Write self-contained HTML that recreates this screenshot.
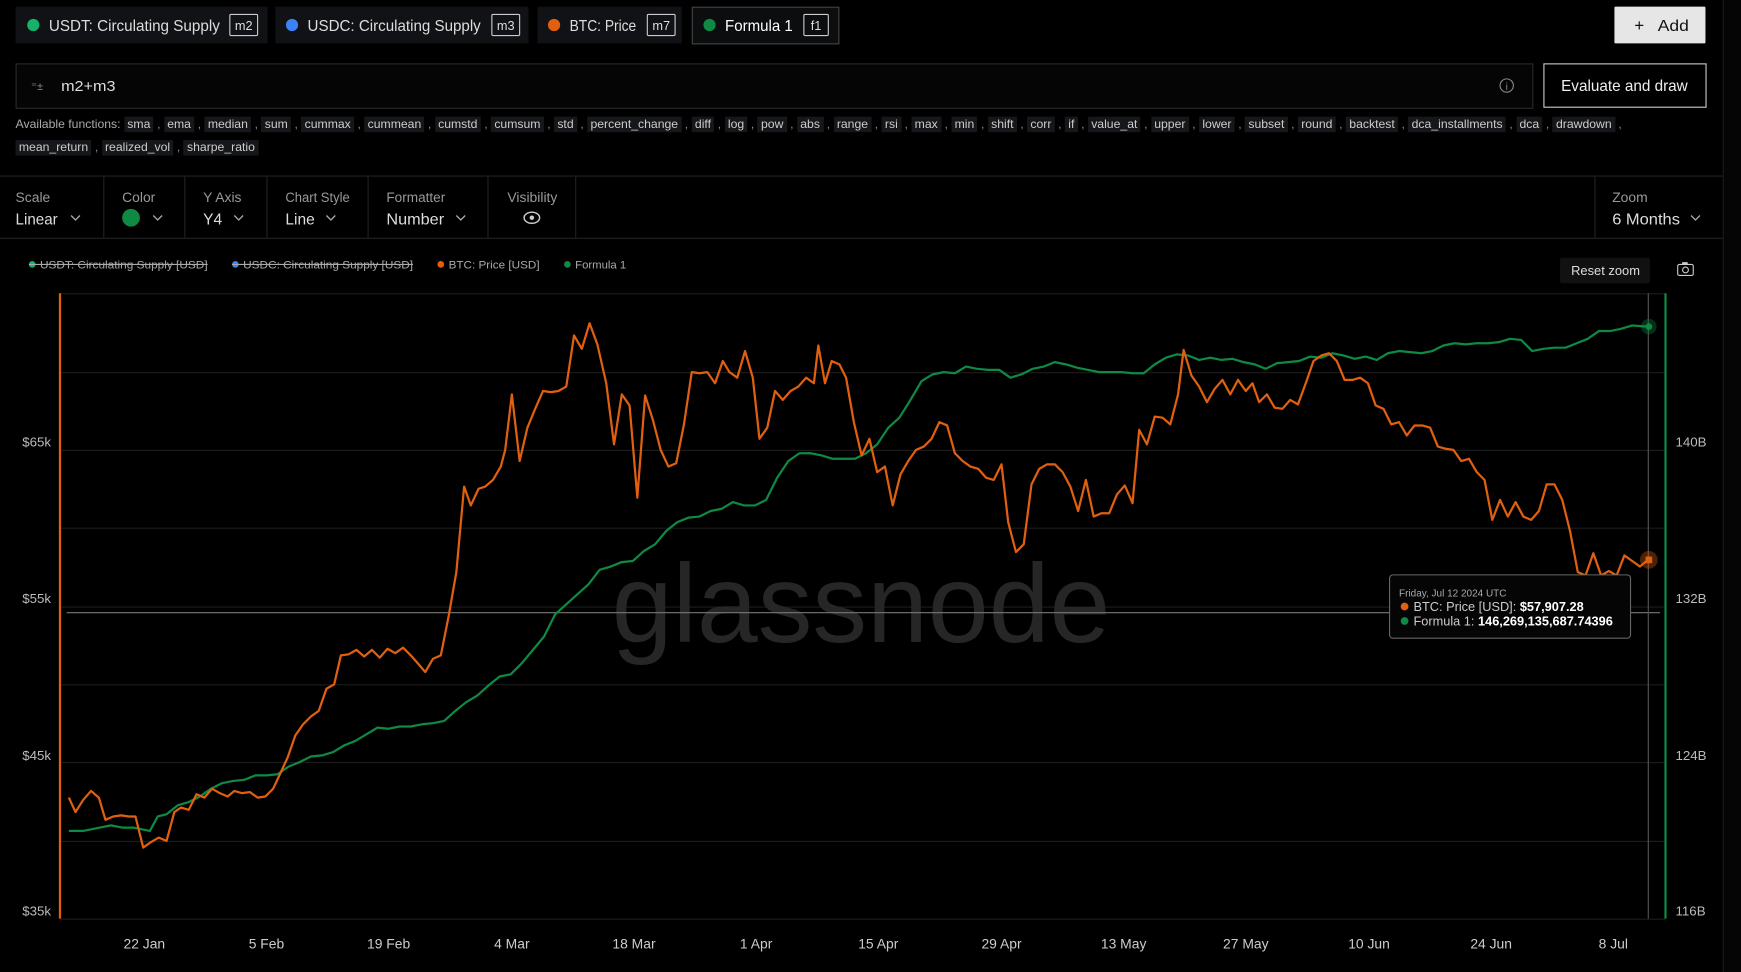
<!DOCTYPE html>
<html><head><meta charset="utf-8"><style>
html,body{margin:0;padding:0;background:#000;overflow:hidden}
svg{display:block}
text{font-family:"Liberation Sans",sans-serif}
</style></head><body>
<svg width="1741" height="972" viewBox="0 0 1568 875" preserveAspectRatio="none">
<rect width="1568" height="875" fill="#000"/>
<rect x="1552" y="0" width="16" height="875" fill="#050505"/>
<line x1="1552" y1="0" x2="1552" y2="875" stroke="#1a1a1a"/>
<!-- pills -->
<rect x="14" y="6" width="227" height="33" fill="#111215"/>
<circle cx="30" cy="22.5" r="5.5" fill="#17b26a"/>
<text x="44" y="28" font-size="14" fill="#ddd" textLength="154" lengthAdjust="spacingAndGlyphs">USDT: Circulating Supply</text>
<rect x="207" y="13" width="25" height="19" fill="none" stroke="#ccc" rx="1"/><text x="219.5" y="27" font-size="11.5" fill="#ddd" text-anchor="middle">m2</text>
<rect x="248" y="6" width="228" height="33" fill="#111215"/>
<circle cx="263" cy="22.5" r="5.5" fill="#3b82f6"/>
<text x="277" y="28" font-size="14" fill="#ddd" textLength="156" lengthAdjust="spacingAndGlyphs">USDC: Circulating Supply</text>
<rect x="443" y="13" width="25" height="19" fill="none" stroke="#ccc" rx="1"/><text x="455.5" y="27" font-size="11.5" fill="#ddd" text-anchor="middle">m3</text>
<rect x="484" y="6" width="130" height="33" fill="#111215"/>
<circle cx="499" cy="22.5" r="5.5" fill="#e0600f"/>
<text x="513" y="28" font-size="14" fill="#ddd" textLength="60" lengthAdjust="spacingAndGlyphs">BTC: Price</text>
<rect x="583" y="13" width="25" height="19" fill="none" stroke="#ccc" rx="1"/><text x="595.5" y="27" font-size="11.5" fill="#ddd" text-anchor="middle">m7</text>
<rect x="623.5" y="6.5" width="132" height="33" fill="#0c0d0f" stroke="#444"/>
<circle cx="639" cy="22.5" r="5.5" fill="#0e8a44"/>
<text x="653" y="28" font-size="14" fill="#fff" textLength="61" lengthAdjust="spacingAndGlyphs">Formula 1</text>
<rect x="724" y="13" width="22" height="19" fill="none" stroke="#ccc" rx="1"/><text x="735" y="27" font-size="11.5" fill="#ddd" text-anchor="middle">f1</text>
<rect x="1454" y="6" width="82" height="33" fill="#e6e6e6" rx="1"/>
<text x="1472" y="28" font-size="15" fill="#111">+</text><text x="1493" y="28" font-size="14" fill="#111" textLength="28" lengthAdjust="spacingAndGlyphs">Add</text>
<!-- formula -->
<rect x="14.5" y="57.5" width="1366" height="40" fill="#050505" stroke="#2a2a2a"/>
<text x="28" y="81" font-size="10" fill="#888">⁼±</text>
<text x="55" y="82" font-size="13.5" fill="#ddd" textLength="49" lengthAdjust="spacingAndGlyphs">m2+m3</text>
<circle cx="1357" cy="77" r="6" fill="none" stroke="#888"/><text x="1357" y="81" font-size="9" fill="#888" text-anchor="middle">i</text>
<rect x="1390.5" y="57.5" width="146" height="39" fill="#000" stroke="#ccc"/>
<text x="1406" y="82" font-size="14" fill="#eee" textLength="114" lengthAdjust="spacingAndGlyphs">Evaluate and draw</text>
<!-- controls -->
<line x1="0" y1="158.5" x2="1552" y2="158.5" stroke="#222"/>
<line x1="0" y1="214.5" x2="1552" y2="214.5" stroke="#222"/>
<g stroke="#222"><line x1="93.5" y1="159" x2="93.5" y2="214"/><line x1="166.5" y1="159" x2="166.5" y2="214"/><line x1="240.5" y1="159" x2="240.5" y2="214"/><line x1="331.5" y1="159" x2="331.5" y2="214"/><line x1="439.5" y1="159" x2="439.5" y2="214"/><line x1="518.5" y1="159" x2="518.5" y2="214"/><line x1="1436.5" y1="159" x2="1436.5" y2="214"/></g>
<g font-size="12.5" fill="#999"><text x="14" y="182">Scale</text><text x="110" y="182">Color</text><text x="183" y="182">Y Axis</text><text x="257" y="182" textLength="58" lengthAdjust="spacingAndGlyphs">Chart Style</text><text x="348" y="182" textLength="53" lengthAdjust="spacingAndGlyphs">Formatter</text><text x="457" y="182" textLength="45" lengthAdjust="spacingAndGlyphs">Visibility</text><text x="1452" y="182">Zoom</text></g>
<g font-size="14" fill="#ddd"><text x="14" y="202" textLength="38" lengthAdjust="spacingAndGlyphs">Linear</text><text x="183" y="202">Y4</text><text x="257" y="202">Line</text><text x="348" y="202" textLength="52" lengthAdjust="spacingAndGlyphs">Number</text><text x="1452" y="202" textLength="61" lengthAdjust="spacingAndGlyphs">6 Months</text></g>
<circle cx="118" cy="196" r="8" fill="#0e8a44"/>
<g fill="none" stroke="#aaa" stroke-width="1.2"><path d="M64 194l4 4 4-4"/><path d="M138 194l4 4 4-4"/><path d="M211 194l4 4 4-4"/><path d="M294 194l4 4 4-4"/><path d="M411 194l4 4 4-4"/><path d="M1523 194l4 4 4-4"/></g>
<ellipse cx="479" cy="196" rx="7" ry="5" fill="none" stroke="#ccc" stroke-width="1.3"/><circle cx="479" cy="196" r="2" fill="#ccc"/>
<!-- legend -->
<g font-size="10" fill="#aaa">
<circle cx="29" cy="238" r="3" fill="#17b26a"/><text x="36" y="241.5" textLength="151" lengthAdjust="spacingAndGlyphs">USDT: Circulating Supply [USD]</text><line x1="26" y1="238" x2="187" y2="238" stroke="#aaa"/>
<circle cx="212" cy="238" r="3" fill="#3b82f6"/><text x="219" y="241.5" textLength="153" lengthAdjust="spacingAndGlyphs">USDC: Circulating Supply [USD]</text><line x1="209" y1="238" x2="372" y2="238" stroke="#aaa"/>
<circle cx="397" cy="238" r="3" fill="#e0600f"/><text x="404" y="241.5" textLength="82" lengthAdjust="spacingAndGlyphs">BTC: Price [USD]</text>
<circle cx="511" cy="238" r="3" fill="#0e8a44"/><text x="518" y="241.5" textLength="46" lengthAdjust="spacingAndGlyphs">Formula 1</text>
</g>
<rect x="1405" y="232" width="81" height="23" fill="#111" rx="2"/><text x="1415" y="247.5" font-size="12" fill="#ddd" textLength="62" lengthAdjust="spacingAndGlyphs">Reset zoom</text>
<rect x="1511" y="238" width="14" height="10" fill="none" stroke="#ccc" rx="1.5"/><circle cx="1518" cy="243" r="2.6" fill="none" stroke="#ccc"/><rect x="1515" y="236" width="5" height="2" fill="#ccc"/>
<!-- grid -->
<g stroke="#1c1c1c"><line x1="54" y1="264.5" x2="1500" y2="264.5"/><line x1="54" y1="335.5" x2="1500" y2="335.5"/><line x1="54" y1="405.5" x2="1500" y2="405.5"/><line x1="54" y1="475.5" x2="1500" y2="475.5"/><line x1="54" y1="546.5" x2="1500" y2="546.5"/><line x1="54" y1="616.5" x2="1500" y2="616.5"/><line x1="54" y1="686.5" x2="1500" y2="686.5"/><line x1="54" y1="757.5" x2="1500" y2="757.5"/><line x1="54" y1="827.5" x2="1500" y2="827.5"/></g>
<text x="551" y="578" font-size="100" fill="#262626" textLength="449" lengthAdjust="spacingAndGlyphs">glassnode</text>
<line x1="54" y1="264" x2="54" y2="827" stroke="#e0600f" stroke-width="2"/>
<line x1="1500" y1="264" x2="1500" y2="827" stroke="#0e8a44" stroke-width="2"/>
<line x1="60" y1="551.5" x2="1495" y2="551.5" stroke="#777"/>
<line x1="1484.5" y1="264" x2="1484.5" y2="827" stroke="#555"/>
<g font-size="12" fill="#bbb"><text x="46" y="402" text-anchor="end">$65k</text><text x="46" y="543" text-anchor="end">$55k</text><text x="46" y="684" text-anchor="end">$45k</text><text x="46" y="824" text-anchor="end">$35k</text>
<text x="1509" y="402">140B</text><text x="1509" y="543">132B</text><text x="1509" y="684">124B</text><text x="1509" y="824">116B</text></g>
<g font-size="12.5" fill="#ccc" text-anchor="middle"><text x="130" y="854">22 Jan</text><text x="240" y="854">5 Feb</text><text x="350" y="854">19 Feb</text><text x="461" y="854">4 Mar</text><text x="571" y="854">18 Mar</text><text x="681" y="854">1 Apr</text><text x="791" y="854">15 Apr</text><text x="902" y="854">29 Apr</text><text x="1012" y="854">13 May</text><text x="1122" y="854">27 May</text><text x="1233" y="854">10 Jun</text><text x="1343" y="854">24 Jun</text><text x="1453" y="854">8 Jul</text></g>
<polyline fill="none" stroke="#0e8a44" stroke-width="2" stroke-linejoin="round" points="62,748 75,748 90,745 100,743 110,745 120,745 135,748 142,735 150,733 160,725 170,722 180,717 190,710 200,705 210,703 220,702 230,698 240,698 250,697 260,690 270,686 280,681 290,680 300,677 310,671 320,667 330,661 340,655 350,656 360,654 370,654 380,652 390,651 400,649 410,640 420,632 430,626 440,617 450,609 460,607 470,597 480,585 490,573 500,553 510,544 520,535 530,526 540,513 550,510 560,506 570,505 580,496 590,490 600,478 610,470 620,466 630,465 640,460 650,458 660,452 670,455 680,455 690,450 700,430 710,415 720,408 730,408 740,410 750,413 760,413 770,413 780,408 790,400 800,385 810,376 820,360 830,343 840,337 850,335 860,336 870,330 880,332 890,333 900,333 910,340 920,337 930,332 940,330 950,326 960,328 970,331 980,333 990,335 1000,335 1010,335 1020,336 1030,336 1040,328 1050,322 1060,319 1070,320 1080,324 1090,322 1100,324 1110,323 1120,326 1130,328 1140,332 1150,327 1160,326 1170,325 1180,321 1190,322 1200,318 1210,320 1220,323 1230,321 1240,324 1250,318 1260,316 1270,317 1280,318 1290,316 1300,311 1310,309 1320,310 1330,309 1340,309 1350,308 1360,305 1370,306 1380,316 1390,314 1400,313 1410,313 1420,309 1430,305 1440,298 1450,298 1460,296 1470,293 1484,294"/>
<polyline fill="none" stroke="#e0600f" stroke-width="2" stroke-linejoin="round" points="62,718 68,731 75,720 82,712 89,718 95,738 102,735 109,734 116,735 122,735 129,763 136,758 143,754 150,757 157,731 163,727 170,729 177,715 184,718 191,710 198,714 205,717 211,712 218,714 225,713 232,718 239,717 246,710 253,695 259,682 266,662 273,652 280,645 287,640 294,620 301,616 307,590 314,589 321,585 328,591 335,585 342,592 349,584 356,588 363,583 370,590 377,598 383,605 390,593 397,590 404,555 411,515 418,438 424,455 431,440 437,438 444,432 451,420 455,405 461,355 468,415 475,385 482,368 489,352 496,353 503,352 510,348 517,302 524,314 531,291 538,310 546,345 553,400 560,355 567,365 574,448 581,356 588,378 595,405 602,420 609,417 616,382 623,335 630,336 637,335 644,345 651,325 657,335 664,340 671,316 678,340 684,395 691,385 698,352 705,360 712,352 719,348 726,340 733,345 737,311 743,345 749,325 756,328 762,340 769,380 776,410 783,395 790,425 797,420 804,455 811,427 818,415 825,405 832,402 839,395 846,380 853,383 860,408 867,415 874,420 881,422 888,430 895,432 902,418 908,470 915,497 922,490 929,436 936,422 943,418 950,418 957,425 964,438 971,460 978,432 985,465 992,462 999,462 1006,445 1013,437 1020,453 1026,387 1033,400 1040,375 1047,376 1054,382 1061,355 1066,315 1073,338 1080,348 1087,362 1094,350 1101,342 1108,355 1115,342 1122,352 1128,345 1134,362 1141,355 1148,367 1155,368 1162,360 1169,364 1176,345 1183,325 1190,320 1197,318 1204,325 1211,342 1218,342 1225,340 1232,345 1239,365 1246,368 1253,382 1260,380 1267,392 1274,383 1281,383 1288,385 1295,402 1302,404 1309,405 1316,415 1323,413 1330,425 1337,432 1344,468 1351,450 1358,465 1365,452 1372,465 1379,468 1386,460 1393,436 1400,436 1407,450 1414,478 1421,515 1428,518 1435,498 1442,518 1449,514 1456,518 1463,500 1470,505 1477,510 1484,504"/>
<circle cx="1485" cy="294" r="7" fill="#0e8a44" opacity="0.35"/><circle cx="1485" cy="294" r="3" fill="#0e8a44"/>
<circle cx="1485" cy="504" r="8" fill="#e0600f" opacity="0.35"/><rect x="1482" y="501" width="6" height="6" fill="#e0600f"/>
<!-- tooltip -->
<rect x="1251.5" y="517.5" width="217" height="57" fill="#050505" stroke="#666" rx="3"/>
<text x="1260" y="537" font-size="9" fill="#aaa">Friday, Jul 12 2024 UTC</text>
<circle cx="1265" cy="546" r="3.5" fill="#e0600f"/><text x="1273" y="550" font-size="11.5" fill="#ccc">BTC: Price [USD]: <tspan fill="#fff" font-weight="bold">$57,907.28</tspan></text>
<circle cx="1265" cy="559" r="3.5" fill="#0e8a44"/><text x="1273" y="563" font-size="11.5" fill="#ccc">Formula 1: <tspan fill="#fff" font-weight="bold">146,269,135,687.74396</tspan></text>
</svg>
<div style="position:absolute;left:0;top:0;width:1741px;height:972px;pointer-events:none">
<div style="position:absolute;left:0;top:0;transform:scale(1.1103,1.1109);transform-origin:0 0;width:1568px;font:11px 'Liberation Sans',sans-serif;color:#ccc">
<div style="position:absolute;left:14px;top:102px;width:1540px;line-height:21px;white-space:nowrap">
<span style="color:#aaa">Available functions: </span><span id="f"></span>
</div></div></div>
<script>
var n="sma ema median sum cummax cummean cumstd cumsum std percent_change diff log pow abs range rsi max min shift corr if value_at upper lower subset round backtest dca_installments dca drawdown mean_return realized_vol sharpe_ratio".split(" ");
var h="";
for(var i=0;i<n.length;i++){h+='<span style="background:#16171a;padding:1px 3px">'+n[i]+'</span>';if(i<n.length-1){h+='<span style="color:#888"> , </span>';} if(n[i]=="drawdown")h+='<br>';}
document.getElementById("f").innerHTML=h;
</script>
</body></html>
